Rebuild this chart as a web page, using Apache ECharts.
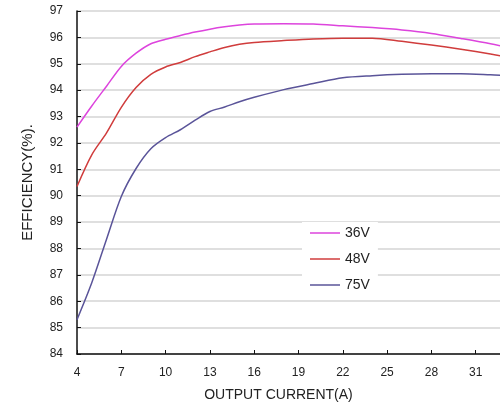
<!DOCTYPE html>
<html><head><meta charset="utf-8">
<script src="https://cdn.jsdelivr.net/npm/echarts@6/dist/echarts.min.js"></script>
<style>html,body{margin:0;padding:0;background:#fff;}#c{width:500px;height:403px;}</style>
</head><body><div id="c"></div>
<script>
var currents = [4,5,6,7,8,9,10,11,12,13,14,15,16,18,20,22,24,26,28,30,32,33];
var eff36V = [92.6,93.4,94.15,94.9,95.4,95.76,95.93,96.07,96.2,96.31,96.4,96.47,96.51,96.52,96.51,96.44,96.37,96.28,96.15,95.96,95.76,95.64];
var eff48V = [90.35,91.55,92.38,93.35,94.1,94.6,94.88,95.05,95.27,95.45,95.62,95.74,95.81,95.88,95.94,95.97,95.97,95.85,95.71,95.55,95.37,95.27];
var eff75V = [85.3,86.7,88.35,89.97,91.03,91.78,92.2,92.5,92.86,93.19,93.36,93.56,93.73,94.02,94.25,94.47,94.55,94.6,94.62,94.62,94.58,94.55];
var seriesNames = ['36V','48V','75V'];
var colors = ['#dd44dd','#d03c3c','#5a5499'];

function pairs(ys){ return currents.map(function(x,i){ return [x, ys[i]]; }); }
var chart = echarts.init(document.getElementById('c'));
var font = 'Liberation Sans, Arial, sans-serif';
chart.setOption({
  animation:false,
  grid:{left:77,top:11,bottom:49,right:-20,containLabel:false,outerBoundsMode:'none'},
  legend:{
    data:seriesNames, orient:'vertical', left:302, top:222,
    icon:'rect', itemWidth:30, itemHeight:1.5, itemGap:12,
    backgroundColor:'#fff', padding:[4,8,6,8],
    textStyle:{fontFamily:font,fontSize:14,color:'#222'}
  },
  xAxis:{
    type:'value', min:4, max:34, interval:3,
    name:'OUTPUT CURRENT(A)', nameLocation:'middle', nameGap:34,
    nameTextStyle:{fontFamily:font,fontSize:14,color:'#222',padding:[0,40,0,0]},
    axisLine:{lineStyle:{color:'#111',width:1.5}},
    axisTick:{inside:true,length:4,lineStyle:{color:'#111'}},
    axisLabel:{fontFamily:font,fontSize:12,color:'#222',margin:13},
    splitLine:{show:false}
  },
  yAxis:{
    type:'value', min:84, max:97, interval:1,
    name:'EFFICIENCY(%).', nameLocation:'middle', nameGap:42,
    nameTextStyle:{fontFamily:font,fontSize:15,color:'#222'},
    axisLine:{show:true,lineStyle:{color:'#111',width:1.5}},
    axisTick:{show:true,inside:true,length:4,lineStyle:{color:'#111'}},
    axisLabel:{fontFamily:font,fontSize:12,color:'#222',margin:14},
    splitLine:{lineStyle:{color:'#d4d4d4',width:1.5}}
  },
  series:[
    {name:seriesNames[0],type:'line',data:pairs(eff36V),smooth:0.3,symbol:'none',lineStyle:{color:colors[0],width:1.5},itemStyle:{color:colors[0]}},
    {name:seriesNames[1],type:'line',data:pairs(eff48V),smooth:0.3,symbol:'none',lineStyle:{color:colors[1],width:1.5},itemStyle:{color:colors[1]}},
    {name:seriesNames[2],type:'line',data:pairs(eff75V),smooth:0.3,symbol:'none',lineStyle:{color:colors[2],width:1.5},itemStyle:{color:colors[2]}}
  ]
});
</script></body></html>
